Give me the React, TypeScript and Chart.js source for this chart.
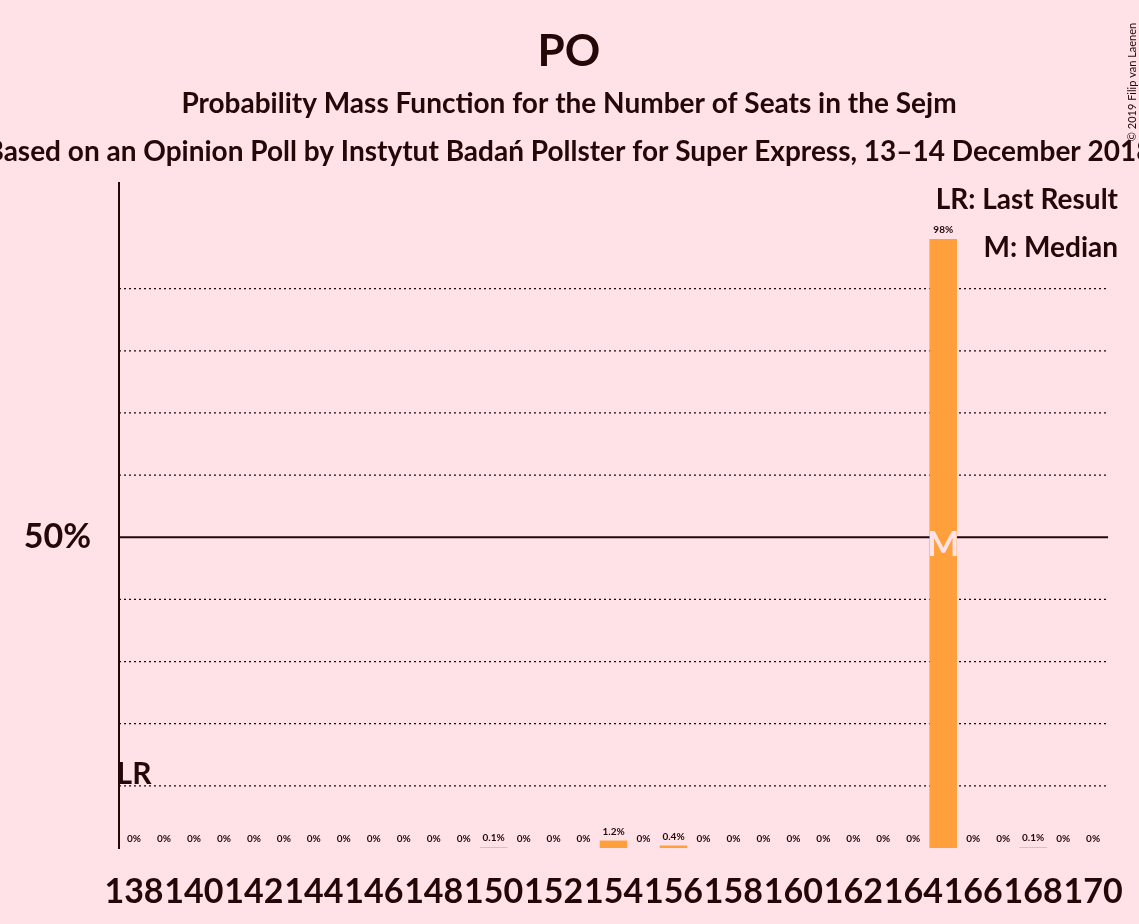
import React, { useEffect, useRef } from "react";
import { Chart, registerables } from "chart.js";

Chart.register(...registerables);

const seats = Array.from({ length: 33 }, (_, i) => String(138 + i));
const probs = [
  0, 0, 0, 0, 0, 0, 0, 0, 0, 0, 0, 0, 0.1, 0, 0, 0, 1.2, 0, 0.4, 0, 0, 0, 0, 0, 0, 0, 0, 98, 0, 0, 0.1, 0, 0,
];
const gridLines = [10, 20, 30, 40, 60, 70, 80, 90];
const lastResult = "138";
const median = "165";

const INK = "#230808";
const BG = "#FFE2E7";
const FONT = "Lato, 'DejaVu Sans', sans-serif";

export default function App(): React.ReactElement {
  const ref = useRef<HTMLCanvasElement | null>(null);

  useEffect(() => {
    document.body.style.margin = "0";
    if (!ref.current) return;
    const overlay = {
      id: "overlay",
      beforeDraw(chart: Chart) {
        const c = chart.ctx;
        c.save();
        c.fillStyle = BG;
        c.fillRect(0, 0, chart.width, chart.height);
        c.restore();
      },
      beforeDatasetsDraw(chart: Chart) {
        const c = chart.ctx;
        const { left, right } = chart.chartArea;
        const y = chart.scales.y;
        c.save();
        c.strokeStyle = INK;
        c.lineWidth = 1.3;
        c.setLineDash([2, 3]);
        for (const g of gridLines) {
          const py = y.getPixelForValue(g);
          c.beginPath(); c.moveTo(left, py); c.lineTo(right, py); c.stroke();
        }
        c.setLineDash([]);
        c.lineWidth = 2;
        const p50 = y.getPixelForValue(50);
        c.beginPath(); c.moveTo(left, p50); c.lineTo(right, p50); c.stroke();
        c.restore();
      },
      afterDatasetsDraw(chart: Chart) {
        const c = chart.ctx;
        const meta = chart.getDatasetMeta(0);
        const y = chart.scales.y;
        c.save();
        c.textAlign = "center";
        c.fillStyle = INK;
        c.font = `bold 10px ${FONT}`;
        meta.data.forEach((bar, i) => {
          const v = probs[i];
          const py = y.getPixelForValue(v);
          c.fillText(`${v}%`, bar.x, Math.min(py, y.getPixelForValue(0)) - 6);
        });
        const mi = seats.indexOf(median);
        c.fillStyle = BG;
        c.font = `bold 34px ${FONT}`;
        c.textBaseline = "middle";
        c.fillText("M", meta.data[mi].x, y.getPixelForValue(50) + 8);
        const li = seats.indexOf(lastResult);
        c.fillStyle = INK;
        c.font = `bold 30px ${FONT}`;
        c.fillText("LR", meta.data[li].x, y.getPixelForValue(10) - 12);
        c.textBaseline = "alphabetic";
        c.font = `bold 44px ${FONT}`;
        c.fillText("PO", 569, 66);
        c.font = `bold 28px ${FONT}`;
        c.fillText("Probability Mass Function for the Number of Seats in the Sejm", 569, 113);
        c.fillText("Based on an Opinion Poll by Instytut Badań Pollster for Super Express, 13–14 December 2018", 569, 161);
        c.textAlign = "right";
        c.font = `bold 28px ${FONT}`;
        c.fillText("LR: Last Result", 1118, 209);
        c.fillText("M: Median", 1118, 257);
        c.font = `11px ${FONT}`;
        c.translate(1136, 82);
        c.rotate(-Math.PI / 2);
        c.textAlign = "center";
        c.fillText("© 2019 Filip van Laenen", 0, 0);
        c.restore();
      },
    };

    const chart = new Chart(ref.current, {
      type: "bar",
      data: {
        labels: seats,
        datasets: [
          {
            data: probs,
            backgroundColor: "#FFA03C",
            barPercentage: 0.92,
            categoryPercentage: 1,
          },
        ],
      },
      options: {
        responsive: false,
        animation: false,
        layout: { padding: { top: 183, right: 21, left: 0, bottom: 0 } },
        plugins: { legend: { display: false }, tooltip: { enabled: false } },
        scales: {
          x: {
            grid: { display: false },
            border: { display: false },
            ticks: {
              color: INK,
              font: { family: FONT, size: 34, weight: "bold" },
              autoSkip: false,
              maxRotation: 0,
              padding: 16,
              callback: (_v, i) => (i % 2 === 0 ? seats[i] : ""),
            },
            afterFit: (s) => { s.height = 76; },
          },
          y: {
            min: 0,
            max: 107,
            grid: { display: false },
            border: { color: INK, width: 2 },
            ticks: {
              color: INK,
              font: { family: FONT, size: 34, weight: "bold" },
              autoSkip: false,
              stepSize: 50,
              padding: 20,
              callback: (v) => (v === 50 ? "50%" : ""),
            },
            afterFit: (s) => { s.width = 119; },
          },
        },
      },
      plugins: [overlay],
    });
    return () => chart.destroy();
  }, []);

  return (
    <div style={{ width: 1139, height: 924, background: BG }}>
      <canvas ref={ref} width={1139} height={924} style={{ display: "block" }} />
    </div>
  );
}
